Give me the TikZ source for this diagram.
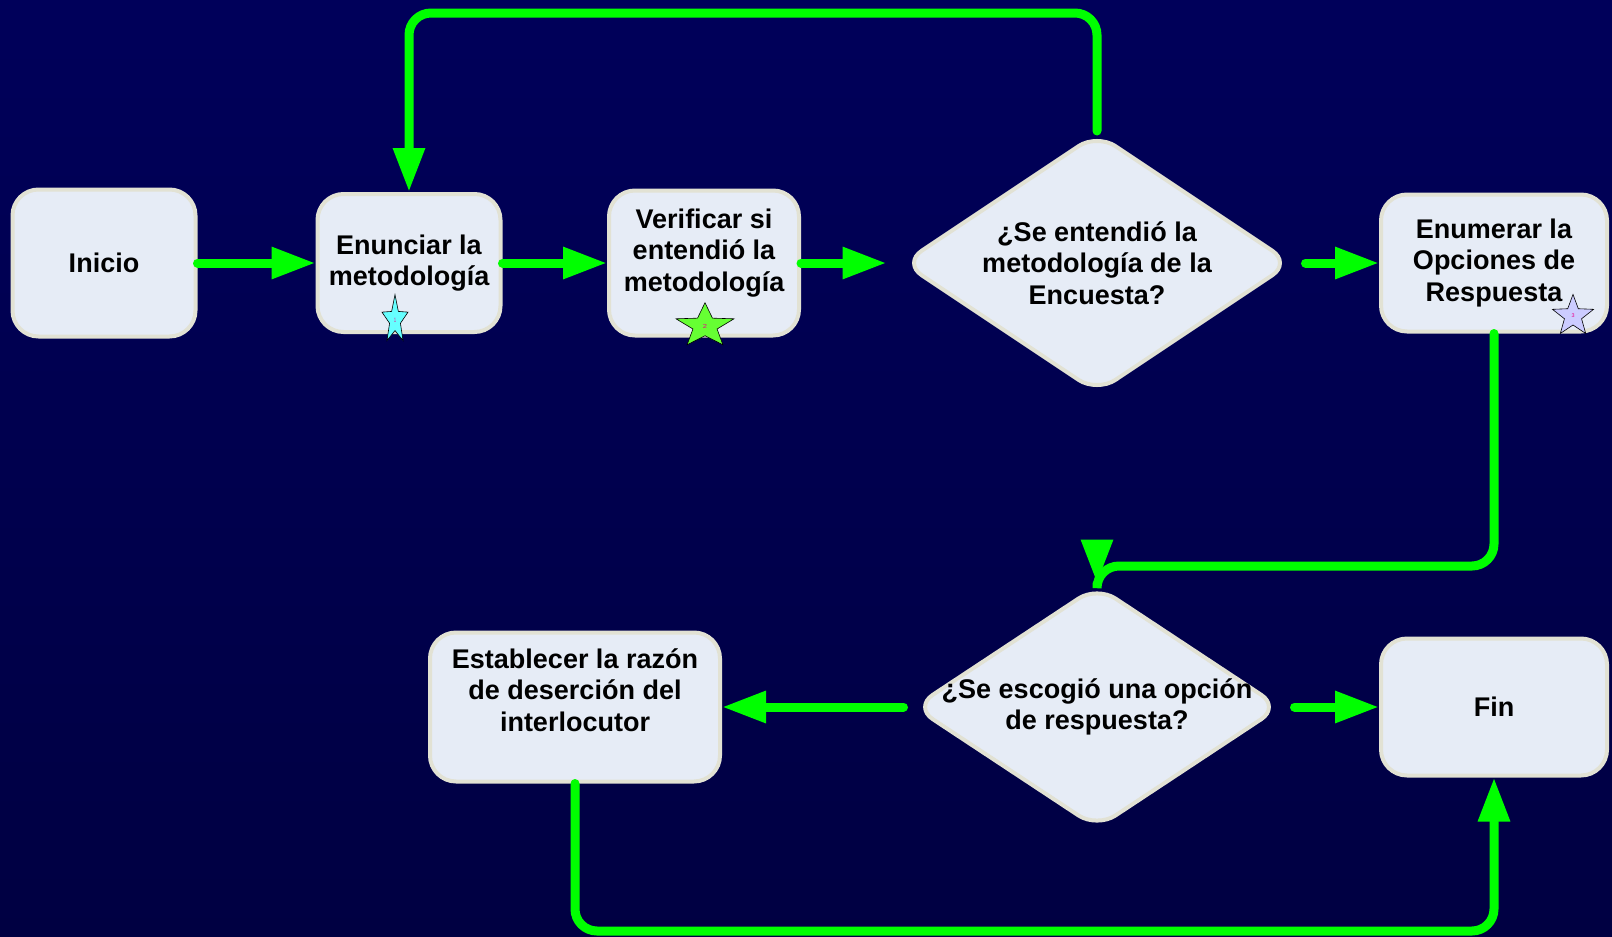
\documentclass[tikz,border=0pt]{standalone}
\usepackage{fontspec}
\setmainfont{Liberation Sans}
\usetikzlibrary{arrows.meta,shapes.geometric}
\definecolor{bgtop}{RGB}{0,0,90}
\definecolor{bgbot}{RGB}{0,0,66}
\definecolor{boxfill}{HTML}{E6ECF6}
\definecolor{boxline}{HTML}{E2E2D4}
\definecolor{flowgreen}{HTML}{00FF00}
\definecolor{starcyan}{RGB}{102,255,255}
\definecolor{stargreen}{RGB}{102,255,51}
\definecolor{starlilac}{RGB}{204,204,255}

\begin{document}
\begin{tikzpicture}[x=1pt, y=-1pt,
  stepbox/.style={rectangle, rounded corners=26pt, draw=boxline, line width=4pt,
                  fill=boxfill, font=\fontsize{27}{31.5}\selectfont\bfseries,
                  align=center, inner sep=0pt},
  decision/.style={diamond, rounded corners=22pt, draw=boxline, line width=4pt,
                   fill=boxfill, inner sep=0pt},
  dtext/.style={font=\fontsize{27}{31.5}\selectfont\bfseries, align=center, inner sep=0pt},
  link/.style={draw=flowgreen, line width=9pt, line cap=round, rounded corners=22pt},
  flow/.style={link, -{Triangle[length=44pt, width=30pt]}},
  badge/.style={star, star points=5, star point ratio=2.4, minimum size=48pt,
                inner sep=0pt, draw=black, line width=0.6pt, transform shape,
                font=\fontsize{6}{6}\selectfont, text=magenta},
]
  \shade[top color=bgtop, bottom color=bgbot] (0,0) rectangle (1612,937);

  % top row
  \node[stepbox, minimum width=183pt, minimum height=147pt] (ini) at (104,263) {Inicio};
  \node[stepbox, minimum width=183pt, minimum height=138pt] (enu) at (409,263) {Enunciar la\\metodología};
  \node[stepbox, minimum width=190pt, minimum height=145pt] (ver) at (704,263) {};
  \node[dtext] (vert) at (704,253) {Verificar si\\entendió la\\metodología};
  \node[decision, minimum width=389pt, minimum height=260pt] (d1) at (1097,263) {};
  \node[dtext] (d1t) at (d1) {¿Se entendió la\\metodología de la\\Encuesta?};
  \node[stepbox, minimum width=226pt, minimum height=137pt] (enm) at (1494,263) {Enumerar la\\Opciones de\\Respuesta};

  % bottom row
  \node[stepbox, minimum width=290pt, minimum height=149pt] (est) at (575,707) {};
  \node[dtext] (estt) at (575,690) {Establecer la razón\\de deserción del\\interlocutor};
  \node[decision, minimum width=367pt, minimum height=243pt] (d2) at (1097,707) {};
  \node[dtext] (d2t) at (d2) {¿Se escogió una opción\\de respuesta?};
  \node[stepbox, minimum width=226pt, minimum height=137pt] (fin) at (1494,707) {Fin};

  % stars
  \begin{scope}[shift={(395,320)}, xscale=0.57, yscale=1.06]
    \node[badge, fill=starcyan] (s1) at (0,0) {1};
  \end{scope}
  \begin{scope}[shift={(705,326)}, xscale=1.27, yscale=0.97]
    \node[badge, fill=stargreen] (s2) at (0,0) {2};
  \end{scope}
  \begin{scope}[shift={(1573,316)}, xscale=0.9, yscale=0.9]
    \node[badge, fill=starlilac] (s3) at (0,0) {3};
  \end{scope}

  \coordinate (topline) at (0,13);
  \coordinate (midline) at (0,566);
  \coordinate (botline) at (0,931);
  \coordinate (j2) at (1097,546);

  \draw[flow] (ini) -- (enu);
  \draw[flow] (enu) -- (ver);
  \draw[flow, shorten >=14pt] (ver) -- (d1);
  \draw[flow, shorten <=12pt] (d1) -- (enm);
  \draw[flow] (d1.north) -- (d1.north |- topline) -- (enu.north |- topline) -- (enu.north);
  \draw[link] (enm.south) -- (enm.south |- midline) -- (d2.north |- midline) -- (d2.north);
  \draw[flow, line cap=butt] (j2) -- (d2.north);
  \draw[flow, shorten <=8pt] (d2) -- (est);
  \draw[flow, shorten <=12pt] (d2) -- (fin);
  \draw[flow] (est.south) -- (est.south |- botline) -- (fin.south |- botline) -- (fin.south);
\end{tikzpicture}
\end{document}
